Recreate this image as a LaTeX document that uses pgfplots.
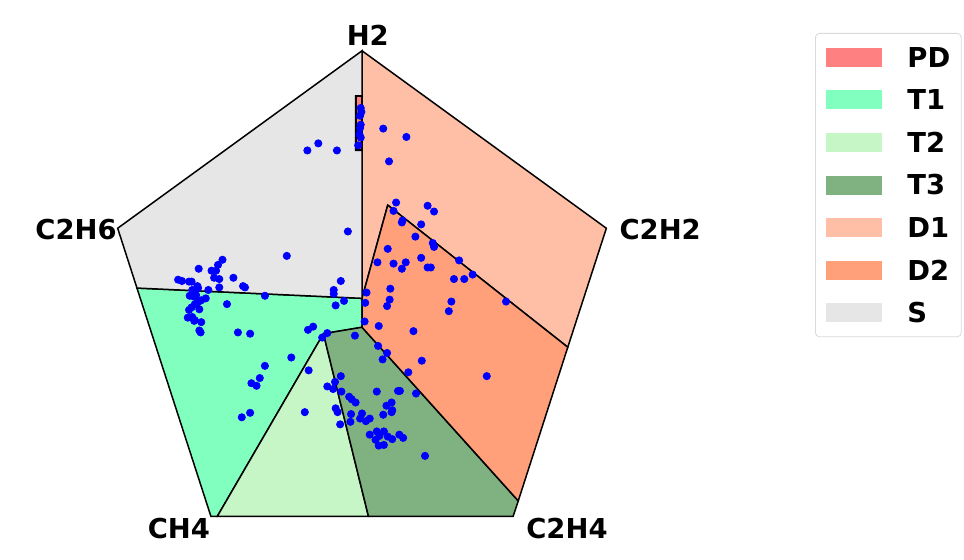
\documentclass[border=0pt]{standalone}
\usepackage{pgfplots}
\pgfplotsset{compat=1.18}
\usepackage{fontspec}
\setmainfont{DejaVu Sans}

\definecolor{cPD}{HTML}{FF8080}
\definecolor{cT1}{HTML}{80FFBF}
\definecolor{cT2}{HTML}{C6F6C6}
\definecolor{cT3}{HTML}{80B180}
\definecolor{cD1}{HTML}{FFBFA7}
\definecolor{cD2}{HTML}{FFA07A}
\definecolor{cS}{HTML}{E6E6E6}

\newcommand{\lblfont}{\fontsize{13.7}{16}\selectfont\bfseries}

\begin{document}
\begin{tikzpicture}
\begin{axis}[
    scale only axis,
    width=482pt, height=279.5pt,
    xmin=-56.3, xmax=93.62,
    ymin=-39.04, ymax=47.9,
    hide axis, clip=false,
    legend cell align=left,
    legend image code/.code={\fill[#1,draw=none,sharp corners] (0pt,-4.75pt) rectangle (28pt,4.75pt);},
    legend style={at={(axis cs:70.45,42.77)}, anchor=north west,
        draw=black!15, fill=white, rounded corners=2pt,
        inner xsep=5.5pt, inner ysep=7pt,
        row sep=11.4pt, column sep=12.5pt,
        font=\lblfont,
        nodes={inner sep=0pt, text height=9.9pt, text depth=0pt, sharp corners}},
    every node near coord/.style={inner sep=0pt},
  ]
  % zones of the pentagon
  \addplot[fill=cPD, draw=black, line width=1pt] coordinates {
      (0,33) (-1,33) (-1,24.5) (0,24.5) (0,33)};
  \addlegendentry{PD}
  \addplot[fill=cT1, draw=black, line width=0.75pt] coordinates {
      (-6,-4) (-22.5,-32.4) (-23.5,-32.4) (-35,3.1) (0,1.5) (0,-3) (-6,-4)};
  \addlegendentry{T1}
  \addplot[fill=cT2, draw=black, line width=0.75pt] coordinates {
      (-6,-4) (1,-32.4) (-22.5,-32.4) (-6,-4)};
  \addlegendentry{T2}
  \addplot[fill=cT3, draw=black, line width=0.75pt] coordinates {
      (0,-3) (24.3,-30) (23.5,-32.4) (1,-32.4) (-6,-4) (0,-3)};
  \addlegendentry{T3}
  \addplot[fill=cD1, draw=black, line width=0.75pt] coordinates {
      (0,40) (38,12.4) (32,-6.1) (4,16) (0,1.5) (0,24.5) (0,33) (0,40)};
  \addlegendentry{D1}
  \addplot[fill=cD2, draw=black, line width=0.75pt] coordinates {
      (4,16) (32,-6.1) (24.3,-30) (0,-3) (0,1.5) (4,16)};
  \addlegendentry{D2}
  \addplot[fill=cS, draw=black, line width=0.75pt] coordinates {
      (0,1.5) (-35,3.1) (-38,12.4) (0,40) (0,33) (-1,33) (-1,24.5) (0,24.5) (0,1.5)};
  \addlegendentry{S}

  % samples
  \addplot[only marks, mark=*, mark size=1.8pt, color=blue, forget plot] coordinates {
      (-0.2,31.1) (-0.1,30.5) (-0.3,29.9) (-0.2,28.5) (-0.3,28.0) (-0.4,27.0) (-0.2,26.5) (-0.6,25.3)
      (-8.5,24.5) (-6.8,25.6) (-3.9,24.5) (3.3,27.9) (6.9,26.6) (4.2,22.8)
      (5.3,16.4) (4.9,15.1) (10.2,15.9) (11.2,15.0) (6.3,13.6) (6.2,13.3) (9.2,13.0) (8.3,11.1)
      (11.0,10.1) (11.2,9.5) (4.0,9.2) (2.4,7.1) (4.9,6.9) (6.8,7.1) (9.2,7.8) (6.2,6.1)
      (10.2,6.3) (10.7,6.3) (15.1,7.4) (17.2,5.2) (14.3,4.5) (15.9,4.5)
      (-11.7,8.1) (-21.7,7.5) (-22.4,6.7) (-25.4,6.1) (-23.4,5.8) (-22.7,5.8) (-28.6,4.4) (-28.0,4.2)
      (-26.9,4.1) (-26.5,4.1) (-23.0,4.7) (-22.2,4.5) (-20.0,4.7) (-25.6,3.4) (-25.5,3.1) (-26.4,2.8)
      (-23.9,2.8) (-22.2,3.2) (-18.5,3.4) (-18.2,3.2) (-15.1,1.9) (-26.8,1.9) (-26.2,1.8) (-25.8,2.0)
      (-24.3,1.5) (-25.0,1.2) (-26.0,0.6) (-25.5,0.9) (-26.5,0.1) (-26.9,-0.3) (-25.3,-0.2) (-21.0,0.6)
      (-27.1,-1.5) (-26.4,-1.4) (-26.0,-1.9) (-26.1,-2.0) (-25.0,-2.2) (-25.3,-3.5) (-25.1,-3.8)
      (-19.3,-3.8) (-17.4,-4.0)
      (-2.2,11.9) (-3.3,4.2) (-4.4,2.8) (-4.4,2.2) (0.7,2.4) (4.4,3.0) (4.3,1.3) (3.9,0.3)
      (-2.8,1.1) (-4.1,0.4) (0.5,0.8) (0.4,-2.1) (2.6,-2.8) (8.0,-3.6) (-7.6,-2.9) (-8.4,-3.4)
      (-5.4,-3.9) (-6.2,-4.6) (-1.1,-4.3) (2.5,-5.9)
      (-11.0,-7.7) (-8.3,-9.7) (3.9,-7.0) (3.2,-8.0) (9.3,-8.2) (7.2,-10.0) (-3.3,-10.6) (-5.4,-12.2)
      (-4.2,-11.5) (-4.5,-12.6) (-3.2,-13.0) (2.3,-13.0) (5.6,-12.9) (5.9,-12.9) (8.4,-13.3)
      (-2.0,-13.8) (-1.6,-14.2) (-1.0,-14.7) (3.8,-15.2) (4.6,-14.7) (4.7,-15.9) (4.6,-16.2)
      (-8.9,-16.2) (-4.1,-15.6) (-3.8,-16.2) (-1.7,-16.5) (0.0,-16.4) (3.3,-16.6) (-0.3,-17.2)
      (0.6,-17.6) (1.2,-17.2) (-1.8,-17.7) (-3.4,-18.1) (2.3,-19.2) (3.4,-19.2) (1.2,-19.7)
      (2.7,-19.9) (4.0,-20.0) (4.7,-20.4) (5.8,-19.7) (6.4,-20.2) (2.1,-20.5) (2.6,-21.4)
      (3.4,-21.3) (9.8,-23.0)
      (13.9,1.0) (13.5,-0.5) (22.4,1.0) (19.4,-10.6)
      (-15.1,-9.0) (-15.9,-10.9) (-17.2,-11.7) (-16.4,-12.1) (-18.7,-17.0) (-17.4,-16.3)
  };

  % gas labels
  \node[anchor=base, inner sep=0pt, font=\lblfont] at (axis cs:0.9,40.9) {H2};
  \node[anchor=base west, inner sep=0pt, font=\lblfont] at (axis cs:40.0,10.7) {C2H2};
  \node[anchor=base east, inner sep=0pt, font=\lblfont] at (axis cs:-38.1,10.6) {C2H6};
  \node[anchor=base east, inner sep=0pt, font=\lblfont] at (axis cs:-23.6,-35.8) {CH4};
  \node[anchor=base west, inner sep=0pt, font=\lblfont] at (axis cs:25.5,-35.8) {C2H4};
\end{axis}
\pgfresetboundingbox
\path (current axis.south west) rectangle (current axis.north east);
\end{tikzpicture}
\end{document}
